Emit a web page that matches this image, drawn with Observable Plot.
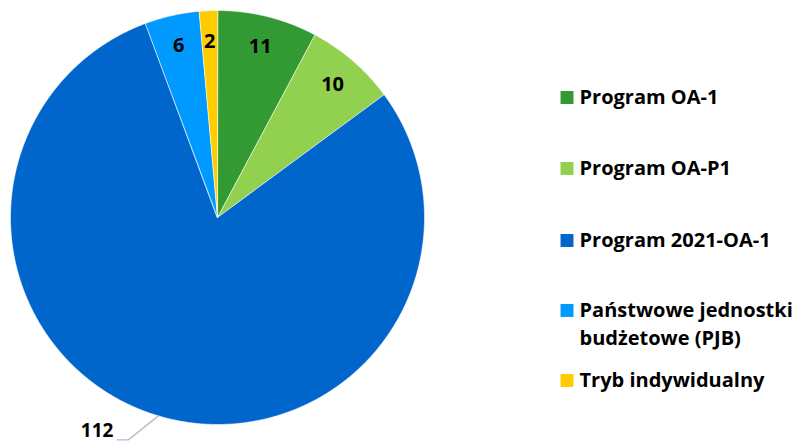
<!DOCTYPE html>
<html><head><meta charset="utf-8">
<script src="https://cdn.jsdelivr.net/npm/d3@7"></script>
<script src="https://cdn.jsdelivr.net/npm/@observablehq/plot@0.6"></script>
<style>body{margin:0;background:#fff;} #chart svg{display:block;}</style>
</head><body><div id="chart"></div>
<script>
const categories = ["Program OA-1","Program OA-P1","Program 2021-OA-1","Państwowe jednostki\nbudżetowe (PJB)","Tryb indywidualny"];
const values = [11, 10, 112, 6, 2];
const colors = ["#339933","#92D050","#0066CC","#0099FF","#FFCC00"];

// geometry (pixel layout constants)
const W = 793, H = 443, CX = 217, CY = 217, R = 207;
const px = x => (x - CX) / R, py = y => (CY - y) / R;

const pie = d3.pie().sort(null).value(d => d.value)(categories.map((name, i) => ({name, value: values[i]})));

// slice polygons
const poly = [];
pie.forEach(s => {
  const n = Math.max(2, Math.ceil((s.endAngle - s.startAngle) / 0.005));
  poly.push({name: s.data.name, x: 0, y: 0});
  for (let k = 0; k <= n; k++) {
    const a = s.startAngle + (s.endAngle - s.startAngle) * k / n;
    poly.push({name: s.data.name, x: Math.sin(a), y: Math.cos(a)});
  }
});

// labels
const labels = [];
let leader = [];
pie.forEach(s => {
  const a = (s.startAngle + s.endAngle) / 2;
  if (s.data.value > 50) {
    const ex = Math.sin(a), ey = Math.cos(a);
    const ex2 = ex - 30 / R, ey2 = ey - 24 / R;
    leader = [{x: ex, y: ey}, {x: ex2, y: ey2}, {x: ex2 - 11 / R, y: ey2}];
    labels.push({x: ex2 - 15 / R, y: ey2 + 9 / R, text: String(s.data.value), anchor: "end", size: 19});
  } else {
    const f = 0.85;
    labels.push({x: Math.sin(a) * f, y: Math.cos(a) * f, text: String(s.data.value), anchor: "middle", size: 20});
  }
});

// legend layout
const legendY = [97, 168, 240, 310, 380];
const legend = categories.map((name, i) => ({name, x: px(566.5), tx: px(579), y: py(legendY[i])}));

const chart = Plot.plot({
  width: W, height: H,
  margin: 0,
  style: {fontFamily: "'Open Sans', sans-serif", fontWeight: 700, fontSize: "20px", color: "#000", background: "#fff"},
  x: {domain: [-1, 1], range: [CX - R, CX + R], axis: null},
  y: {domain: [-1, 1], range: [CY + R, CY - R], axis: null},
  color: {type: "ordinal", domain: categories, range: colors},
  marks: [
    Plot.line(poly, {x: "x", y: "y", z: "name", fill: "name", stroke: "white", strokeWidth: 0.6, curve: "linear-closed"}),
    Plot.line(leader, {x: "x", y: "y", stroke: "#B4BDCC", strokeWidth: 1.3}),
    Plot.text(labels.filter(d => d.size === 20), {x: "x", y: "y", text: "text", textAnchor: "anchor", fill: "#000", fontSize: 20, fontWeight: 700}),
    Plot.text(labels.filter(d => d.size === 19), {x: "x", y: "y", text: "text", textAnchor: "end", fill: "#000", fontSize: 19, fontWeight: 700}),
    Plot.dot(legend, {x: "x", y: "y", fill: "name", symbol: "square", r: 7.3, stroke: null}),
    Plot.text(legend, {x: "tx", y: "y", text: "name", textAnchor: "start", lineAnchor: "top", dy: -13, lineHeight: 1.4, fill: "#000", fontSize: 20, fontWeight: 700})
  ]
});
document.getElementById("chart").appendChild(chart);
</script></body></html>
